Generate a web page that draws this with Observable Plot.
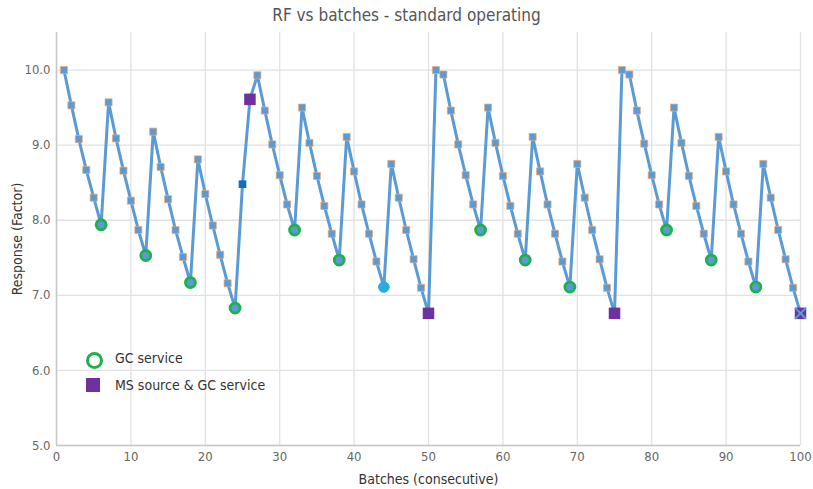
<!DOCTYPE html>
<html><head><meta charset="utf-8">
<script src="https://cdn.jsdelivr.net/npm/d3@7"></script>
<script src="https://cdn.jsdelivr.net/npm/@observablehq/plot@0.6"></script>
<style>
body{margin:0;background:#fff;font-family:"Liberation Sans Narrow","DejaVu Sans Condensed","Roboto",sans-serif;}
#wrap{position:relative;width:813px;height:489px;overflow:hidden}
#title{height:26px;text-align:center;font-size:17px;color:#555;line-height:30px}
#legend{position:absolute;left:80px;top:344px;font-size:14px;color:#333}
.li{display:flex;align-items:center;height:27px}
.sym{width:26px;height:20px;position:relative;margin-right:9px}
.ring{position:absolute;left:6px;top:4px;width:11px;height:11px;border:3px solid #1fb04a;border-radius:50%;box-sizing:content-box;}
.sq{position:absolute;left:6px;top:3px;width:14px;height:14px;background:#7030a0}
svg text{font-family:"Liberation Sans Narrow","DejaVu Sans Condensed","Roboto",sans-serif;}
g[aria-label="x-axis label"] text, g[aria-label="y-axis label"] text{fill:#333;font-size:14px;}
</style></head><body>
<div id="wrap">
<div id="title">RF vs batches - standard operating</div>
<div id="chart"></div>
<div id="legend">
<div class="li"><div class="sym"><div class="ring"></div></div><span>GC service</span></div>
<div class="li"><div class="sym"><div class="sq"></div></div><span>MS source &amp; GC service</span></div>
</div>
</div>
<script>
const batches = [1,2,3,4,5,6,7,8,9,10,11,12,13,14,15,16,17,18,19,20,21,22,23,24,25,26,27,28,29,30,31,32,33,34,35,36,37,38,39,40,41,42,43,44,45,46,47,48,49,50,51,52,53,54,55,56,57,58,59,60,61,62,63,64,65,66,67,68,69,70,71,72,73,74,75,76,77,78,79,80,81,82,83,84,85,86,87,88,89,90,91,92,93,94,95,96,97,98,99,100];
const rf = [10.00,9.53,9.08,8.67,8.30,7.94,9.57,9.09,8.66,8.26,7.87,7.53,9.18,8.71,8.28,7.87,7.51,7.17,8.81,8.35,7.93,7.54,7.16,6.83,8.48,9.61,9.93,9.46,9.01,8.60,8.21,7.87,9.50,9.03,8.59,8.19,7.82,7.47,9.11,8.65,8.21,7.82,7.45,7.11,8.75,8.30,7.87,7.48,7.10,6.76,10.00,9.94,9.46,9.01,8.60,8.21,7.87,9.50,9.03,8.59,8.19,7.82,7.47,9.11,8.65,8.21,7.82,7.45,7.11,8.75,8.30,7.87,7.48,7.10,6.76,10.00,9.94,9.46,9.02,8.60,8.21,7.87,9.50,9.03,8.59,8.19,7.82,7.47,9.11,8.65,8.21,7.82,7.45,7.11,8.75,8.30,7.87,7.48,7.10,6.76];
const gcService = [6,12,18,24,32,38,57,63,69,82,88,94];
const msSourceGcService = [26,50,75,100];
const otherSquare = [25];
const otherCircle = [44];
const crossed = [100];
const xTicks = [0,10,20,30,40,50,60,70,80,90,100];
const yTicks = [5,6,7,8,9,10];

const data = batches.map((b,i)=>({batch:b, rf:rf[i]}));
const special = new Set([...gcService, ...msSourceGcService, ...otherSquare, ...otherCircle]);
const pick = arr => data.filter(d => arr.includes(d.batch));

const chart = Plot.plot({
  width: 813, height: 463,
  marginLeft: 56, marginRight: 13, marginTop: 6, marginBottom: 44,
  style: {fontSize: "13px", color: "#666", background: "#fff"},
  x: {domain: [0,100], ticks: xTicks},
  y: {domain: [5,10.5], ticks: yTicks},
  marks: [
    Plot.gridX(xTicks, {stroke: "#e2e2e2", strokeOpacity: 1, strokeWidth: 1.3}),
    Plot.gridY(yTicks, {stroke: "#e2e2e2", strokeOpacity: 1, strokeWidth: 1.3}),
    Plot.ruleX([0], {stroke: "#c8c8c8", strokeWidth: 1.5}),
    Plot.ruleY([5], {stroke: "#c8c8c8", strokeWidth: 1.5}),
    Plot.axisX(xTicks, {tickSize: 0, tickPadding: 6, tickFormat: d3.format("d"), label: "Batches (consecutive)", labelAnchor: "center", labelArrow: "none", labelOffset: 38, fill: "#666"}),
    Plot.axisY(yTicks, {tickSize: 0, tickPadding: 6, tickFormat: d3.format(".1f"), label: "Response (Factor)", labelAnchor: "center", labelArrow: "none", labelOffset: 44, fill: "#666"}),
    Plot.line(data, {x: "batch", y: "rf", stroke: "#5b9bd5", strokeWidth: 3, curve: "linear"}),
    Plot.dot(data.filter(d => !special.has(d.batch)), {x: "batch", y: "rf", symbol: "square", r: 4, fill: "#5b9bd5", stroke: "#f0a868", strokeWidth: 0.7}),
    Plot.dot(pick(gcService), {x: "batch", y: "rf", symbol: "circle", r: 5, fill: "#5b9bd5", stroke: "#1fb04a", strokeWidth: 2.8}),
    Plot.dot(pick(otherCircle), {x: "batch", y: "rf", symbol: "circle", r: 5.3, fill: "#29abe2", stroke: "#29abe2", strokeWidth: 1}),
    Plot.dot(pick(otherSquare), {x: "batch", y: "rf", symbol: "square", r: 4.3, fill: "#0e6fbf"}),
    Plot.dot(pick(msSourceGcService), {x: "batch", y: "rf", symbol: "square", r: 6.5, fill: "#7030a0"}),
    Plot.dot(pick(crossed), {x: "batch", y: "rf", symbol: "times", r: 5, stroke: "#5b9bd5", strokeWidth: 2})
  ]
});
document.getElementById("chart").appendChild(chart);
</script>
</body></html>
